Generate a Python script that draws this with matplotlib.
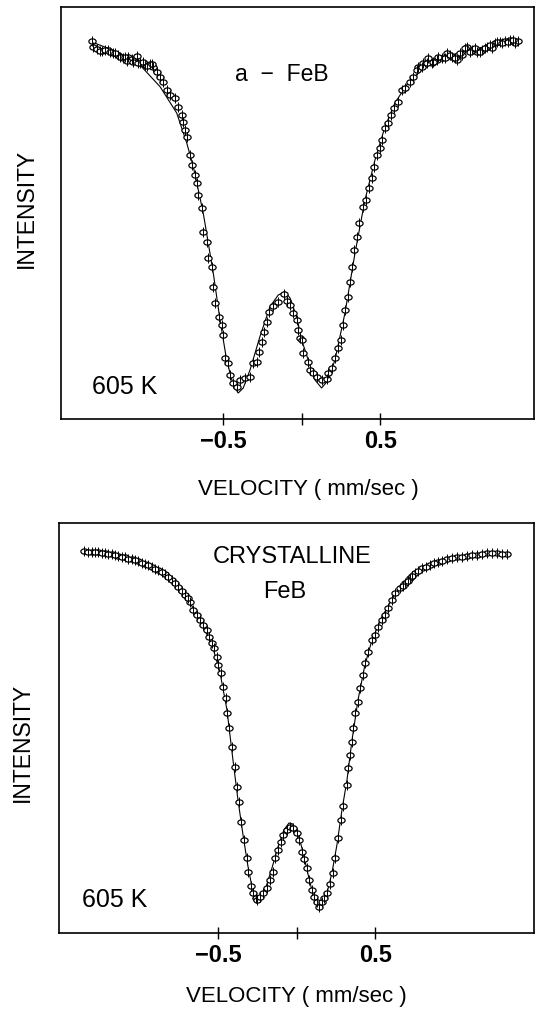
import matplotlib
matplotlib.use("Agg")
import matplotlib.pyplot as plt
import numpy as np
from matplotlib.path import Path

plt.rcParams['font.family'] = ['Liberation Sans', 'DejaVu Sans']

# ---------------- data: a-FeB (top panel) ----------------
amor_v = [-1.340, -1.329, -1.308, -1.276, -1.234, -1.202, -1.170, -1.138, -1.106, -1.085,
          -1.053, -1.032, -1.000, -0.968, -0.947, -0.925, -0.904, -0.883, -0.862, -0.841,
          -0.809, -0.788, -0.766, -0.756, -0.745, -0.734, -0.713, -0.703, -0.682, -0.671,
          -0.661, -0.639, -0.629, -0.607, -0.597, -0.575, -0.565, -0.554, -0.527, -0.511,
          -0.501, -0.490, -0.469, -0.459, -0.438, -0.416, -0.395, -0.363, -0.331, -0.310,
          -0.289, -0.272, -0.257, -0.242, -0.225, -0.208, -0.183, -0.151, -0.115, -0.097,
          -0.076, -0.055, -0.034, -0.024, -0.013, -0.002, 0.008, 0.040, 0.051, 0.072,
          0.094, 0.125, 0.157, 0.168, 0.193, 0.210, 0.227, 0.248, 0.263, 0.274,
          0.291, 0.306, 0.320, 0.333, 0.348, 0.363, 0.390, 0.406, 0.427, 0.444,
          0.461, 0.476, 0.497, 0.511, 0.529, 0.546, 0.567, 0.588, 0.610, 0.635,
          0.656, 0.688, 0.709, 0.741, 0.773, 0.804, 0.826, 0.858, 0.890, 0.922,
          0.954, 0.985, 1.017, 1.049, 1.081, 1.113, 1.145, 1.176, 1.208, 1.229,
          1.261, 1.293, 1.325, 1.357, 1.374]
amor_i = [378.3, 372.3, 369.7, 368.3, 369.0, 365.7, 364.0, 360.7, 362.3, 359.7,
          363.0, 356.3, 354.0, 354.7, 352.3, 347.3, 342.3, 337.3, 329.0, 324.0,
          320.7, 312.3, 304.0, 297.3, 289.0, 282.3, 264.0, 254.0, 244.0, 235.7,
          224.0, 210.7, 187.3, 177.3, 160.7, 152.3, 132.3, 115.7, 102.3, 94.0,
          84.0, 60.7, 55.7, 44.0, 35.7, 32.3, 39.0, 40.7, 42.3, 55.7,
          57.3, 67.3, 77.3, 87.3, 97.3, 107.3, 113.0, 117.3, 125.0, 118.3,
          114.0, 105.7, 99.0, 89.0, 80.7, 79.0, 65.7, 57.3, 49.0, 45.7,
          42.3, 39.0, 39.7, 45.7, 50.7, 60.7, 70.7, 79.0, 94.0, 109.0,
          122.3, 137.3, 152.3, 169.0, 182.3, 195.7, 212.3, 219.0, 230.7, 240.7,
          252.3, 264.0, 270.7, 279.0, 290.7, 295.7, 304.0, 310.7, 317.3, 329.0,
          330.7, 337.3, 342.3, 352.3, 355.7, 360.7, 355.7, 359.0, 360.7, 365.7,
          362.3, 359.0, 364.0, 372.3, 369.0, 367.3, 369.0, 372.3, 370.7, 375.7,
          377.3, 378.3, 379.0, 376.3, 378.3]
# additional overlapping points in the dense wings
amor_wing_v = [-1.287, -1.255, -1.223, -1.191, -1.159, -1.127, -1.117, -1.075, -1.043, -1.011,
               -0.985, -0.958, 0.730, 0.762, 0.794, 0.837, 0.869, 0.911, 0.943, 0.975,
               1.006, 1.038, 1.070, 1.102, 1.134, 1.166, 1.197, 1.240, 1.272, 1.314, 1.346]
amor_wing_i = [368.3, 369.0, 367.3, 365.7, 362.3, 361.7, 358.3, 357.3, 355.7, 357.3,
               353.0, 355.0, 349.0, 352.3, 356.3, 357.3, 362.3, 360.7, 364.0, 360.7,
               365.7, 370.7, 367.3, 370.7, 367.3, 370.7, 374.0, 377.3, 375.7, 377.3, 379.0]

amor_fit_v = [-1.338, -1.223, -1.127, -1.032, -0.904, -0.798, -0.734, -0.692, -0.629, -0.565,
              -0.522, -0.480, -0.438, -0.406, -0.374, -0.331, -0.268, -0.204, -0.151, -0.108,
              -0.076, -0.034, -0.002, 0.040, 0.083, 0.125, 0.168, 0.210, 0.274, 0.338,
              0.401, 0.465, 0.529, 0.592, 0.675, 0.762, 0.866, 1.017, 1.166, 1.374]
amor_fit_i = [377.0, 370.0, 363.0, 354.0, 332.3, 306.0, 276.0, 252.3, 206.0, 146.0,
              99.0, 59.0, 34.0, 26.0, 31.0, 49.0, 82.3, 112.3, 124.0, 127.3,
              121.0, 102.3, 79.0, 59.0, 39.0, 31.0, 39.0, 59.0, 106.0, 166.0,
              219.0, 259.0, 292.3, 316.0, 336.0, 349.0, 359.0, 367.3, 372.3, 378.3]

# ---------------- data: crystalline FeB (bottom panel) ----------------
cryst_v = [-1.350, -1.303, -1.261, -1.219, -1.176, -1.134, -1.092, -1.049, -1.007, -0.964,
           -0.922, -0.880, -0.837, -0.795, -0.753, -0.710, -0.678, -0.657, -0.636, -0.615,
           -0.594, -0.572, -0.558, -0.540, -0.524, -0.509, -0.498, -0.483, -0.467, -0.451,
           -0.441, -0.430, -0.413, -0.392, -0.378, -0.365, -0.354, -0.335, -0.318, -0.308,
           -0.292, -0.276, -0.259, -0.250, -0.233, -0.212, -0.191, -0.170, -0.153, -0.138,
           -0.117, -0.100, -0.085, -0.064, -0.043, -0.022, 0.000, 0.017, 0.032, 0.046,
           0.064, 0.080, 0.095, 0.110, 0.127, 0.144, 0.159, 0.174, 0.195, 0.212,
           0.229, 0.243, 0.264, 0.280, 0.296, 0.318, 0.328, 0.339, 0.350, 0.360,
           0.371, 0.392, 0.402, 0.420, 0.434, 0.455, 0.477, 0.498, 0.519, 0.540,
           0.561, 0.582, 0.604, 0.625, 0.657, 0.689, 0.720, 0.752, 0.795, 0.848,
           0.900, 0.954, 1.017, 1.081, 1.144, 1.208, 1.271, 1.335]
cryst_i = [382.3, 381.3, 380.7, 379.7, 378.7, 377.0, 375.7, 373.7, 372.0, 369.0,
           366.3, 363.0, 358.7, 353.0, 346.3, 338.0, 331.3, 323.0, 318.0, 313.0,
           308.0, 303.0, 296.3, 289.7, 284.7, 276.3, 268.0, 259.7, 246.3, 234.7,
           219.7, 204.7, 186.3, 166.3, 146.3, 131.3, 111.3, 93.0, 74.7, 61.3,
           47.0, 39.7, 34.7, 33.0, 36.3, 39.7, 44.7, 53.0, 61.3, 74.7,
           83.0, 91.3, 98.0, 103.0, 106.3, 104.7, 99.7, 93.0, 81.3, 73.7,
           64.7, 53.0, 43.0, 36.3, 31.3, 26.3, 31.3, 34.7, 39.7, 49.0,
           59.7, 75.3, 94.7, 113.0, 127.0, 148.0, 164.7, 178.0, 191.3, 204.7,
           219.7, 231.3, 244.7, 258.0, 269.7, 281.3, 293.0, 298.0, 306.3, 313.0,
           318.0, 324.7, 333.0, 339.7, 344.7, 349.7, 354.7, 359.7, 364.7, 368.0,
           371.3, 373.7, 375.7, 377.0, 378.3, 379.7, 379.7, 378.7]
cryst_wing_v = [-1.327, -1.282, -1.240, -1.197, -1.155, -1.113, -1.070, -1.028, -0.985, -0.943,
                -0.901, -0.858, -0.816, -0.774, -0.731, -0.694, 0.673, 0.705, 0.736, 0.773,
                0.822, 0.874, 0.927, 0.986, 1.049, 1.113, 1.176, 1.240, 1.303]
cryst_wing_i = [381.5, 381.0, 380.0, 379.0, 378.0, 376.5, 374.5, 373.0, 370.5, 368.0,
                364.5, 361.0, 356.0, 350.0, 342.0, 335.0, 347.0, 352.0, 357.0, 362.0,
                366.5, 370.0, 372.5, 375.0, 376.5, 377.8, 379.0, 379.7, 379.5]

cryst_fit_v = [-1.352, -1.136, -0.964, -0.837, -0.710, -0.615, -0.538, -0.488, -0.443, -0.405,
               -0.373, -0.341, -0.310, -0.284, -0.254, -0.227, -0.195, -0.157, -0.119, -0.081,
               -0.049, -0.024, 0.008, 0.040, 0.072, 0.104, 0.135, 0.161, 0.193, 0.224,
               0.256, 0.288, 0.320, 0.352, 0.390, 0.434, 0.479, 0.542, 0.625, 0.720,
               0.848, 1.013, 1.165, 1.337]
cryst_fit_i = [383, 378, 370, 360, 339, 313, 288, 261, 223, 173,
               133, 98, 67, 46, 32, 35, 46, 65, 86, 103,
               110, 109, 100, 81, 59, 38, 25, 28, 40, 60,
               88, 123, 153, 193, 233, 268, 293, 316, 339, 355,
               368, 376, 379, 380]

xticks = [-0.5, 0.0, 0.5]
xticklabels = ['\u22120.5', '', '0.5']

fig = plt.figure(figsize=(5.39, 10.14), dpi=100)
W, H = 539.0, 1014.0

def make_axes(left, right, top, bottom):
    return fig.add_axes([left / W, 1 - bottom / H, (right - left) / W, (bottom - top) / H])

ax1 = make_axes(61, 534, 7, 419)
ax2 = make_axes(59, 534, 523, 933)

# slightly flattened open ellipse marker
t = np.linspace(0, 2 * np.pi, 40)
ellipse = Path(np.column_stack([np.cos(t), 0.72 * np.sin(t)]), closed=True)

panels = [
    (ax1, amor_v + amor_wing_v, amor_i + amor_wing_i, amor_fit_v, amor_fit_i,
     (-1.535, 1.478), (0, 412), (0.522, -0.172), (-0.074, 0.512)),
    (ax2, cryst_v + cryst_wing_v, cryst_i + cryst_wing_i, cryst_fit_v, cryst_fit_i,
     (-1.511, 1.509), (0, 410), (0.499, -0.156), (-0.078, 0.466)),
]

for ax, v, I, fv, fi, xl, yl, xlab, ylab in panels:
    ax.plot(fv, fi, color='black', lw=0.8, zorder=2)
    ax.plot(v, I, linestyle='none', marker=ellipse, ms=5.2, mfc='white', mec='black',
            mew=0.9, zorder=3)
    ax.plot(v, I, linestyle='none', marker='|', ms=6.5, mec='black', mew=0.7, zorder=4)
    ax.set_xlim(*xl)
    ax.set_ylim(*yl)
    ax.set_xticks(xticks)
    ax.set_xticklabels(xticklabels, fontsize=17, fontweight='bold')
    ax.set_yticks([])
    ax.tick_params(axis='x', direction='inout', length=8, width=1.0, pad=4)
    for s in ax.spines.values():
        s.set_linewidth(1.2)
    ax.set_xlabel('VELOCITY ( mm/sec )', fontsize=16)
    ax.xaxis.set_label_coords(*xlab)
    ax.xaxis.label.set_va('center')
    ax.set_ylabel('INTENSITY', fontsize=16.5)
    ax.yaxis.set_label_coords(*ylab)
    ax.yaxis.label.set_va('center')

ax1.text(0.467, 0.835, 'a  \u2212  FeB', transform=ax1.transAxes, ha='center', va='center', fontsize=16.5)
ax1.text(0.0655, 0.078, '605 K', transform=ax1.transAxes, ha='left', va='center', fontsize=18)

ax2.text(0.49, 0.917, 'CRYSTALLINE', transform=ax2.transAxes, ha='center', va='center', fontsize=17)
ax2.text(0.476, 0.832, 'FeB', transform=ax2.transAxes, ha='center', va='center', fontsize=17)
ax2.text(0.048, 0.08, '605 K', transform=ax2.transAxes, ha='left', va='center', fontsize=18)

fig.savefig('out.png', dpi=100)
